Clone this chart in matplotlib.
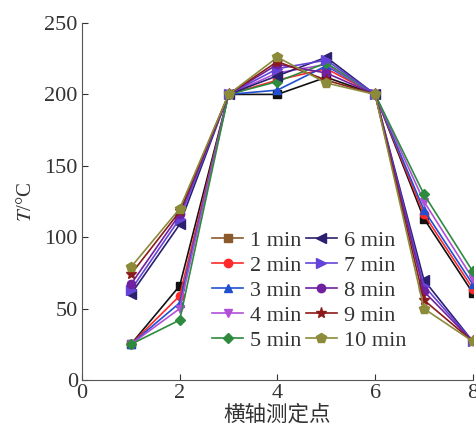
import matplotlib.pyplot as plt
import numpy as np

plt.rcParams['font.family'] = ['Liberation Serif', 'Noto Sans CJK SC', 'DejaVu Sans']
plt.rcParams['mathtext.fontset'] = 'stix'

x = [1, 2, 3, 4, 5, 6, 7, 8]
labels = ['1 min', '2 min', '3 min', '4 min', '5 min',
          '6 min', '7 min', '8 min', '9 min', '10 min']

t1 = [25, 66, 200, 200, 212, 200, 113, 61]
t2 = [25, 59, 200, 210, 218, 200, 116, 64]
t3 = [25, 54, 200, 203, 220, 200, 119, 67]
t4 = [25, 50, 200, 215, 221, 200, 125, 71]
t5 = [25, 42, 200, 209, 222, 200, 130, 76]
t6 = [60, 109, 200, 213, 226, 200, 70, 27]
t7 = [63, 113, 200, 218, 224, 200, 66, 27]
t8 = [67, 116, 200, 221, 215, 200, 62, 27]
t9 = [74, 118, 200, 223, 210, 200, 56, 27]
t10 = [79, 120, 200, 226, 208, 200, 50, 27]
series = [t1, t2, t3, t4, t5, t6, t7, t8, t9, t10]

colors = ['#111111', '#ff2a2a', '#2050d0', '#b050d8', '#2e8b3e',
          '#2b2070', '#6444d8', '#7020a0', '#8b1a1a', '#8b8b3a']
markers = ['s', 'o', '^', 'v', 'D', '<', '>', 'o', '*', 'p']
sizes = [5.5, 6, 6, 6, 5.5, 6.5, 6.5, 6, 8, 7.5]

fig = plt.figure(figsize=(4.76, 4.37), dpi=100)
ax = fig.add_axes([0.1723, 0.1304, 0.821, 0.817])

for s, c, m, ms, lab in zip(series, colors, markers, sizes, labels):
    ax.plot(x, s, color=c, marker=m, markersize=ms, linewidth=1.2, label=lab)

ax.set_xlim(0, 8)
ax.set_ylim(0, 250)
ax.set_xticks([0, 2, 4, 6, 8])
ax.set_yticks([0, 50, 100, 150, 200, 250])
ax.tick_params(direction='in', length=4, labelsize=16, colors='#333333', pad=3)
ax.spines['top'].set_visible(False)
ax.spines['right'].set_visible(False)
for sp in ['left', 'bottom']:
    ax.spines[sp].set_color('#555555')

ax.set_xlabel('横轴测定点', fontsize=15.5, family=['Noto Sans CJK SC'], labelpad=0,
              color='#333333')
ax.set_ylabel('$T$/°C', fontsize=15, labelpad=6, color='#333333')

leg = ax.legend(loc='upper left', bbox_to_anchor=(0.305, 0.45), ncol=2, frameon=False,
                fontsize=16, handlelength=1.4, handletextpad=0.3,
                columnspacing=0.2, labelspacing=0.2, borderpad=0)
for t in leg.get_texts():
    t.set_color('#333333')
leg.legend_handles[0].set_color('#8b5a2b')
leg.legend_handles[0].set_markerfacecolor('#8b5a2b')
leg.legend_handles[0].set_markeredgecolor('#8b5a2b')

fig.savefig('out.png', dpi=100)
